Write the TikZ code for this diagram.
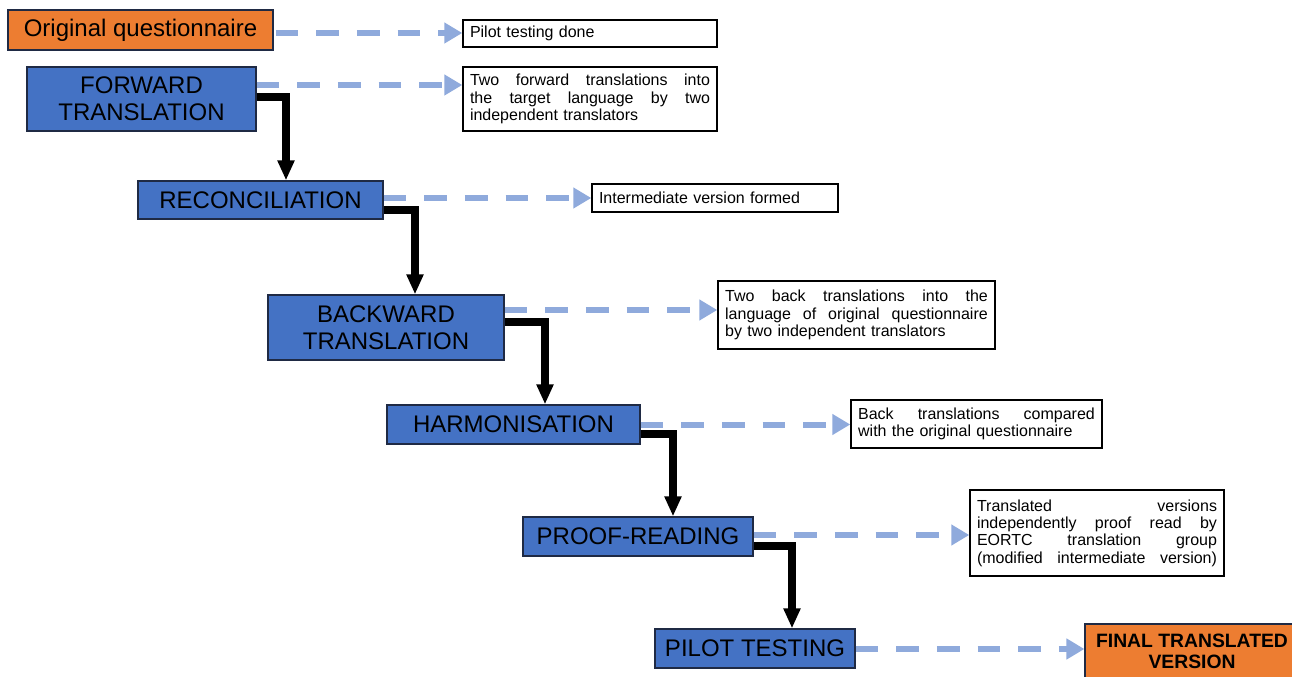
\documentclass[tikz,border=0pt]{standalone}
\usepackage{fontspec}
\setmainfont{Liberation Sans}
\usetikzlibrary{arrows.meta,calc}
\definecolor{bboxc}{HTML}{4472C4}
\definecolor{oboxc}{HTML}{ED7D31}
\definecolor{dashc}{HTML}{8FAADC}
\definecolor{edgec}{HTML}{1F2A44}
\newcommand\PX[1]{#1*0.75pt}
\newcommand\JL[1]{\makebox[\hsize][s]{\spaceskip=0pt\xspaceskip=0pt\relax #1}}
\begin{document}
\begin{tikzpicture}[x=0.75pt,y=-0.75pt,
  stage/.style={draw=edgec, line width=0.9pt, fill=bboxc, text=black, align=center,
    inner sep=0pt, font=\fontsize{18}{20}\selectfont},
  endbox/.style={draw=edgec, line width=0.9pt, fill=oboxc, text=black, align=center,
    inner sep=0pt},
  note/.style={draw=black, line width=1.1pt, fill=white, align=left, inner xsep=\PX{7},
    inner ysep=0pt, font=\fontsize{12}{13}\selectfont},
  dl/.style={draw=dashc, line width=4.5pt, dash pattern=on 17pt off 13.5pt,
    -{Triangle[length=13.5pt,width=15pt]}},
  blk/.style={draw=black, line width=6pt, line join=miter,
    -{Triangle[length=15pt,width=12pt]}}]
\useasboundingbox (0,0) rectangle (1292,677);
\fill[white] (0,0) rectangle (1292,677);
\clip (0,0) rectangle (1292,677);

% stages
\node[endbox, minimum width=\PX{265}, minimum height=\PX{40}, font=\fontsize{18}{20}\selectfont]
  (orig) at (140.5,30) {Original questionnaire};
\node[stage, minimum width=\PX{229}, minimum height=\PX{64}] (fwd) at (141.5,99) {FORWARD\\TRANSLATION};
\node[stage, minimum width=\PX{245}, minimum height=\PX{38}] (rec) at (260.5,200) {RECONCILIATION};
\node[stage, minimum width=\PX{236}, minimum height=\PX{65}] (back) at (386,327.5) {BACKWARD\\TRANSLATION};
\node[stage, minimum width=\PX{253}, minimum height=\PX{39}] (harm) at (513.5,424.5) {HARMONISATION};
\node[stage, minimum width=\PX{230}, minimum height=\PX{39}] (proof) at (638,536.5) {PROOF-READING};
\node[stage, minimum width=\PX{200}, minimum height=\PX{39}] (pilot) at (755,648.5) {PILOT TESTING};
\node[endbox, minimum width=\PX{214}, minimum height=\PX{55}, font=\bfseries\fontsize{14.5}{15.5}\selectfont]
  (final) at (1192,651.5) {FINAL TRANSLATED\\VERSION};

% notes
\node[note, minimum width=\PX{254}, minimum height=\PX{27}, text width=180pt] (p1) at (590,33.5)
  {Pilot testing done};
\node[note, minimum width=\PX{254}, minimum height=\PX{64}, text width=180pt] (p2) at (590,99)
  {\JL{Two forward translations into}\\\JL{the target language by two}\\independent translators};
\node[note, minimum width=\PX{246}, minimum height=\PX{28}, text width=174pt] (p3) at (715,198)
  {Intermediate version formed};
\node[note, minimum width=\PX{277}, minimum height=\PX{68}, text width=197pt] (p4) at (856.5,315)
  {\JL{Two back translations into the}\\\JL{language of original questionnaire}\\by two independent translators};
\node[note, minimum width=\PX{251}, minimum height=\PX{48}, text width=177.5pt] (p5) at (976.5,424)
  {\JL{Back translations compared}\\with the original questionnaire};
\node[note, minimum width=\PX{254}, minimum height=\PX{86}, text width=180pt] (p6) at (1097,533)
  {\JL{Translated versions}\\\JL{independently proof read by}\\\JL{EORTC translation group}\\\JL{(modified intermediate version)}};

% black flow connectors
\draw[blk] ($(fwd.east)+(0,-1.5)$) -| ($(rec.north)+(25.5,0)$);
\draw[blk] ($(rec.east)+(0,10)$) -| ($(back.north)+(29,0)$);
\draw[blk] ($(back.east)+(0,-5.5)$) -| ($(harm.north)+(31.5,0)$);
\draw[blk] ($(harm.east)+(0,9.5)$) -| ($(proof.north)+(35,0)$);
\draw[blk] ($(proof.east)+(0,9.5)$) -| ($(pilot.north)+(37,0)$);

% dashed arrows
\coordinate (a1) at ($(orig.east)+(2,3)$);
\coordinate (a2) at ($(fwd.east)+(0,-14)$);
\coordinate (a3) at ($(rec.east)+(0,-2)$);
\coordinate (a4) at ($(back.east)+(0,-17.5)$);
\coordinate (a5) at ($(harm.east)+(0,0)$);
\coordinate (a6) at ($(proof.east)+(0,-1.5)$);
\coordinate (a7) at ($(pilot.east)+(0,0.5)$);
\draw[dl] (a1) -- (a1 -| p1.west);
\draw[dl] (a2) -- (a2 -| p2.west);
\draw[dl] (a3) -- (a3 -| p3.west);
\draw[dl] (a4) -- (a4 -| p4.west);
\draw[dl] (a5) -- (a5 -| p5.west);
\draw[dl] (a6) -- (a6 -| p6.west);
\draw[dl] (a7) -- (a7 -| final.west);
\end{tikzpicture}
\end{document}
